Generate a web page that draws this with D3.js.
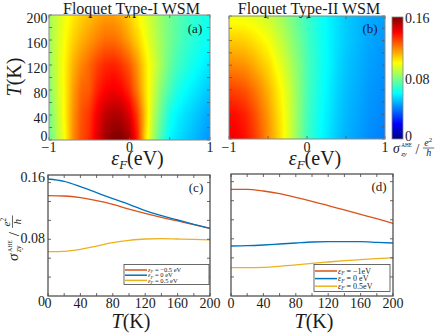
<!DOCTYPE html>
<html>
<head>
<meta charset="utf-8">
<script src="https://cdn.jsdelivr.net/npm/d3@7"></script>
<style>
  body { margin: 0; background: #fff; }
  svg text { font-family: "Liberation Serif", "Times New Roman", serif; fill: #1a1a1a; }
</style>
</head>
<body>
<svg id="fig" width="436" height="334"></svg>
<script>
/* ---- data ---- */
// heat maps: sigma_zy^AHE (e^2/h) on an (eps_F, T) grid
const epsGrid = [-1, -0.9, -0.8, -0.7, -0.6, -0.5, -0.4, -0.3, -0.2, -0.1, 0, 0.1, 0.2, 0.3, 0.4, 0.5, 0.6, 0.7, 0.8, 0.9, 1];
const tempGrid = [0, 40, 80, 120, 160, 200];

const typeI_T0   = [0.075, 0.088, 0.100, 0.118, 0.128, 0.133, 0.145, 0.155, 0.160, 0.160, 0.155, 0.135, 0.105, 0.085, 0.070, 0.059, 0.055, 0.052, 0.049, 0.046, 0.043];
const typeI_T40  = [0.077, 0.090, 0.102, 0.117, 0.127, 0.132, 0.142, 0.150, 0.153, 0.152, 0.145, 0.130, 0.108, 0.088, 0.075, 0.063, 0.058, 0.055, 0.052, 0.049, 0.046];
const typeI_T80  = [0.080, 0.092, 0.102, 0.115, 0.124, 0.126, 0.135, 0.140, 0.142, 0.140, 0.133, 0.120, 0.105, 0.092, 0.080, 0.071, 0.064, 0.060, 0.057, 0.054, 0.051];
const typeI_T120 = [0.082, 0.093, 0.102, 0.112, 0.119, 0.124, 0.130, 0.134, 0.135, 0.132, 0.126, 0.116, 0.104, 0.094, 0.085, 0.076, 0.070, 0.066, 0.062, 0.059, 0.056];
const typeI_T160 = [0.084, 0.093, 0.100, 0.107, 0.112, 0.116, 0.120, 0.123, 0.123, 0.120, 0.114, 0.107, 0.099, 0.091, 0.084, 0.078, 0.073, 0.069, 0.066, 0.063, 0.061];
const typeI_T200 = [0.085, 0.092, 0.098, 0.103, 0.107, 0.110, 0.113, 0.115, 0.115, 0.112, 0.107, 0.101, 0.095, 0.089, 0.083, 0.078, 0.074, 0.070, 0.067, 0.065, 0.063];

const typeII_T0   = [0.142, 0.141, 0.138, 0.133, 0.126, 0.118, 0.110, 0.101, 0.091, 0.080, 0.070, 0.064, 0.059, 0.055, 0.051, 0.048, 0.046, 0.044, 0.042, 0.041, 0.040];
const typeII_T40  = [0.139, 0.138, 0.135, 0.130, 0.123, 0.116, 0.108, 0.100, 0.091, 0.081, 0.071, 0.065, 0.060, 0.056, 0.052, 0.049, 0.047, 0.045, 0.043, 0.042, 0.041];
const typeII_T80  = [0.130, 0.129, 0.127, 0.123, 0.118, 0.112, 0.105, 0.098, 0.090, 0.081, 0.072, 0.066, 0.061, 0.057, 0.053, 0.050, 0.048, 0.046, 0.044, 0.043, 0.042];
const typeII_T120 = [0.119, 0.118, 0.117, 0.114, 0.110, 0.106, 0.100, 0.094, 0.087, 0.080, 0.072, 0.067, 0.062, 0.058, 0.054, 0.051, 0.049, 0.047, 0.045, 0.044, 0.043];
const typeII_T160 = [0.108, 0.108, 0.107, 0.105, 0.102, 0.099, 0.094, 0.089, 0.083, 0.077, 0.071, 0.066, 0.062, 0.058, 0.055, 0.052, 0.050, 0.048, 0.046, 0.045, 0.044];
const typeII_T200 = [0.097, 0.097, 0.097, 0.096, 0.094, 0.092, 0.088, 0.084, 0.079, 0.074, 0.069, 0.065, 0.061, 0.058, 0.055, 0.052, 0.050, 0.048, 0.047, 0.046, 0.045];

const typeI_rows  = [typeI_T0, typeI_T40, typeI_T80, typeI_T120, typeI_T160, typeI_T200];
const typeII_rows = [typeII_T0, typeII_T40, typeII_T80, typeII_T120, typeII_T160, typeII_T200];

// line panels: sigma vs T
const tempLine = [0, 20, 40, 60, 80, 100, 120, 140, 160, 180, 200];
const c_epsM05 = [0.1327, 0.1322, 0.1300, 0.1261, 0.1212, 0.1150, 0.1093, 0.1040, 0.0992, 0.0943, 0.0895];
const c_eps0   = [0.1547, 0.1516, 0.1446, 0.1366, 0.1287, 0.1212, 0.1128, 0.1062, 0.1005, 0.0948, 0.0895];
const c_eps05  = [0.0586, 0.0591, 0.0617, 0.0661, 0.0705, 0.0736, 0.0754, 0.0758, 0.0754, 0.0749, 0.0741];
const d_epsM1  = [0.1399, 0.1399, 0.1377, 0.1342, 0.1294, 0.1242, 0.1185, 0.1128, 0.1071, 0.1014, 0.0953];
const d_eps0   = [0.0656, 0.0660, 0.0669, 0.0682, 0.0695, 0.0708, 0.0713, 0.0713, 0.0713, 0.0704, 0.0695];
const d_eps05  = [0.0372, 0.0372, 0.0376, 0.0389, 0.0407, 0.0428, 0.0446, 0.0463, 0.0477, 0.0490, 0.0503];

const c_labels = ["\u22120.5 eV", "0 eV", "0.5 eV"];
const d_labels = ["\u22121eV", "0 eV", "0.5eV"];

// ticks
const heatTempTicks = [0, 40, 80, 120, 160, 200];
const heatEpsTicks = [-1, 0, 1];
const lineTempTicks = [0, 40, 80, 120, 160, 200];
const sigmaTicks = [0, 0.08, 0.16];

/* ---- layout ---- */
const A  = { x0: 49,  x1: 210, y0: 15,  y1: 140 };
const B  = { x0: 229, x1: 385, y0: 16,  y1: 139 };
const C  = { x0: 48,  x1: 210, y0: 175, y1: 296 };
const D  = { x0: 231, x1: 393, y0: 174, y1: 296 };
const CB = { x0: 392, x1: 403, y0: 17,  y1: 139 };

const lineColors = ["#D95319", "#0072BD", "#EDB120"];
const frameColor = "#444";

const jet = d3.scaleLinear()
    .domain([0, 0.02, 0.06, 0.10, 0.14, 0.16])
    .range(["#000080", "#0000ff", "#00ffff", "#ffff00", "#ff0000", "#800000"])
    .clamp(true);

const svg = d3.select("#fig");
const fmt = v => String(v).replace("-", "\u2212");

// grid lookup (shading between grid nodes, like shading interp)
function sample(rows, e, t) {
    let i = Math.min(Math.max(d3.bisectRight(epsGrid, e) - 1, 0), epsGrid.length - 2);
    let j = Math.min(Math.max(d3.bisectRight(tempGrid, t) - 1, 0), tempGrid.length - 2);
    const fx = Math.min(Math.max((e - epsGrid[i]) / (epsGrid[i + 1] - epsGrid[i]), 0), 1);
    const fy = Math.min(Math.max((t - tempGrid[j]) / (tempGrid[j + 1] - tempGrid[j]), 0), 1);
    const a = rows[j][i] * (1 - fx) + rows[j][i + 1] * fx;
    const b = rows[j + 1][i] * (1 - fx) + rows[j + 1][i + 1] * fx;
    return a * (1 - fy) + b * fy;
}

function drawHeat(P, rows, title, tag, showYLabels) {
    const x = d3.scaleLinear().domain([-1, 1]).range([P.x0, P.x1]);
    const y = d3.scaleLinear().domain([0, 200]).range([P.y1, P.y0]);
    const w = P.x1 - P.x0, h = P.y1 - P.y0;

    const cv = document.createElement("canvas");
    cv.width = w; cv.height = h;
    const ctx = cv.getContext("2d");
    const img = ctx.createImageData(w, h);
    for (let py = 0; py < h; py++) {
        for (let px = 0; px < w; px++) {
            const v = sample(rows, x.invert(P.x0 + px + 0.5), y.invert(P.y0 + py + 0.5));
            const c = d3.rgb(jet(v));
            const k = (py * w + px) * 4;
            img.data[k] = c.r; img.data[k + 1] = c.g; img.data[k + 2] = c.b; img.data[k + 3] = 255;
        }
    }
    ctx.putImageData(img, 0, 0);
    svg.append("image")
        .attr("href", cv.toDataURL())
        .attr("x", P.x0).attr("y", P.y0)
        .attr("width", w).attr("height", h)
        .attr("preserveAspectRatio", "none");

    // inward ticks on all four sides
    const tickG = svg.append("g").attr("stroke", "#555").attr("stroke-width", 0.8);
    d3.range(0, 201, 20).forEach(t => {
        tickG.append("line").attr("x1", P.x0).attr("x2", P.x0 + 3).attr("y1", y(t)).attr("y2", y(t));
        tickG.append("line").attr("x1", P.x1).attr("x2", P.x1 - 3).attr("y1", y(t)).attr("y2", y(t));
    });
    [-1, -0.5, 0, 0.5, 1].forEach(e => {
        tickG.append("line").attr("x1", x(e)).attr("x2", x(e)).attr("y1", P.y1).attr("y2", P.y1 - 3);
        tickG.append("line").attr("x1", x(e)).attr("x2", x(e)).attr("y1", P.y0).attr("y2", P.y0 + 3);
    });

    svg.append("rect")
        .attr("x", P.x0).attr("y", P.y0).attr("width", w).attr("height", h)
        .attr("fill", "none").attr("stroke", "#888").attr("stroke-width", 1);

    // tick labels
    svg.append("g").selectAll("text").data(heatEpsTicks).join("text")
        .attr("x", d => x(d)).attr("y", 152)
        .attr("text-anchor", "middle").attr("font-size", 14)
        .text(fmt);
    if (showYLabels) {
        svg.append("g").selectAll("text").data(heatTempTicks).join("text")
            .attr("x", P.x0 - 1.5).attr("y", d => d === 0 ? y(d) + 0.5 : y(d) + 8)
            .attr("text-anchor", "end").attr("font-size", 14)
            .text(d => d);
    }

    // title and panel tag
    svg.append("text").attr("x", (P.x0 + P.x1) / 2 + 2).attr("y", 13.5)
        .attr("text-anchor", "middle").attr("font-size", 16).text(title);
    svg.append("text").attr("x", P.x1 - 15).attr("y", 33)
        .attr("text-anchor", "middle").attr("font-size", 13).text(tag);

    // x label eps_F (eV)
    const xl = svg.append("text").attr("x", (P.x0 + P.x1) / 2 + 8).attr("y", 165)
        .attr("text-anchor", "middle").attr("font-size", 20);
    xl.append("tspan").attr("font-style", "italic").text("\u03b5");
    xl.append("tspan").attr("font-style", "italic").attr("font-size", 13).attr("dy", 4).text("F");
    xl.append("tspan").attr("dy", -4).text("(eV)");
}

function sigmaLabel(g, s) {
    g.append("text").attr("x", 0).attr("y", 0).attr("font-size", 11 * s).attr("font-style", "italic").text("\u03c3");
    g.append("text").attr("x", 6.5 * s).attr("y", -4.5 * s).attr("font-size", 4.2 * s).text("AHE");
    g.append("text").attr("x", 6.5 * s).attr("y", 2.5 * s).attr("font-size", 5.5 * s).attr("font-style", "italic").text("zy");
    g.append("text").attr("x", 18 * s).attr("y", 1 * s).attr("font-size", 11 * s).text("/");
    const fx = 24 * s;
    const num = g.append("text").attr("x", fx + 1 * s).attr("y", -5.5 * s).attr("font-size", 8 * s);
    num.append("tspan").attr("font-style", "italic").text("e");
    num.append("tspan").attr("font-size", 5.5 * s).attr("dy", -3 * s).text("2");
    g.append("line").attr("x1", fx).attr("x2", fx + 9 * s).attr("y1", -4 * s).attr("y2", -4 * s)
        .attr("stroke", "#1a1a1a").attr("stroke-width", 0.5 * s);
    g.append("text").attr("x", fx + 4.5 * s).attr("y", 2.5 * s).attr("text-anchor", "middle")
        .attr("font-size", 8 * s).attr("font-style", "italic").text("h");
}

function drawLines(P, series, labels, tag, showYLabels, legendBox, rowStep, fontL) {
    const x = d3.scaleLinear().domain([0, 200]).range([P.x0, P.x1]);
    const y = d3.scaleLinear().domain([0, 0.16]).range([P.y1, P.y0]);

    const line = d3.line().x((d, i) => x(tempLine[i])).y(d => y(d)).curve(d3.curveMonotoneX);
    series.forEach((s, k) => {
        svg.append("path").attr("d", line(s)).attr("fill", "none")
            .attr("stroke", lineColors[k]).attr("stroke-width", 1.3);
    });

    const tickG = svg.append("g").attr("stroke", frameColor).attr("stroke-width", 0.8);
    d3.range(0, 201, 20).forEach(t => {
        tickG.append("line").attr("x1", x(t)).attr("x2", x(t)).attr("y1", P.y1).attr("y2", P.y1 - 3);
        tickG.append("line").attr("x1", x(t)).attr("x2", x(t)).attr("y1", P.y0).attr("y2", P.y0 + 3);
    });
    d3.range(0.025, 0.16, 0.025).forEach(v => {
        tickG.append("line").attr("x1", P.x0).attr("x2", P.x0 + 3).attr("y1", y(v)).attr("y2", y(v));
        tickG.append("line").attr("x1", P.x1).attr("x2", P.x1 - 3).attr("y1", y(v)).attr("y2", y(v));
    });
    svg.append("rect")
        .attr("x", P.x0).attr("y", P.y0).attr("width", P.x1 - P.x0).attr("height", P.y1 - P.y0)
        .attr("fill", "none").attr("stroke", frameColor).attr("stroke-width", 1.2);

    svg.append("g").selectAll("text").data(lineTempTicks).join("text")
        .attr("x", d => x(d)).attr("y", 308)
        .attr("text-anchor", "middle").attr("font-size", 14)
        .text(d => d);
    if (showYLabels) {
        svg.append("g").selectAll("text").data(sigmaTicks).join("text")
            .attr("x", P.x0 - 3).attr("y", d => y(d) + (d === 0 ? 9.5 : 7))
            .attr("text-anchor", "end").attr("font-size", 14)
            .text(d => d);
    }

    svg.append("text").attr("x", P.x1 - 14).attr("y", P.y0 + 17)
        .attr("text-anchor", "middle").attr("font-size", 13).text(tag);

    // x label T(K)
    const xl = svg.append("text").attr("x", (P.x0 + P.x1) / 2 + 2).attr("y", 328)
        .attr("text-anchor", "middle").attr("font-size", 20);
    xl.append("tspan").attr("font-style", "italic").text("T");
    xl.append("tspan").text("(K)");

    // legend
    const L = legendBox;
    svg.append("rect").attr("x", L.x0).attr("y", L.y0).attr("width", L.x1 - L.x0).attr("height", L.y1 - L.y0)
        .attr("fill", "#fff").attr("stroke", frameColor).attr("stroke-width", 0.8);
    labels.forEach((lab, k) => {
        const yy = L.y0 + L.first + k * rowStep;
        svg.append("line").attr("x1", L.x0 + 1).attr("x2", L.x0 + 23).attr("y1", yy).attr("y2", yy)
            .attr("stroke", lineColors[k]).attr("stroke-width", 1.5);
        const t = svg.append("text").attr("x", L.x0 + 24).attr("y", yy + fontL * 0.35).attr("font-size", fontL);
        t.append("tspan").attr("font-style", "italic").text("\u03b5");
        t.append("tspan").attr("font-style", "italic").attr("font-size", fontL * 0.7).attr("dy", 1.2).text("F");
        t.append("tspan").attr("dy", -1.2).text(" = " + lab);
    });
}

/* ---- heat maps ---- */
drawHeat(A, typeI_rows, "Floquet Type-I WSM", "(a)", true);
drawHeat(B, typeII_rows, "Floquet Type-II WSM", "(b)", false);

// y label T(K) for heat maps
const tl = svg.append("text").attr("transform", "translate(21,77) rotate(-90)")
    .attr("text-anchor", "middle").attr("font-size", 20);
tl.append("tspan").attr("font-style", "italic").text("T");
tl.append("tspan").text("(K)");

/* ---- colour bar ---- */
const grad = svg.append("defs").append("linearGradient").attr("id", "jetGrad")
    .attr("x1", 0).attr("y1", 1).attr("x2", 0).attr("y2", 0);
jet.domain().forEach(v => {
    grad.append("stop").attr("offset", v / 0.16).attr("stop-color", jet(v));
});
svg.append("rect").attr("x", CB.x0).attr("y", CB.y0).attr("width", CB.x1 - CB.x0).attr("height", CB.y1 - CB.y0)
    .attr("fill", "url(#jetGrad)").attr("stroke", "#888").attr("stroke-width", 0.8);
const cbY = d3.scaleLinear().domain([0, 0.16]).range([CB.y1, CB.y0]);
svg.append("g").selectAll("text").data(sigmaTicks).join("text")
    .attr("x", CB.x1 + 2).attr("y", d => d === 0 ? cbY(d) + 2 : cbY(d) + 6)
    .attr("font-size", 14).text(d => d);
sigmaLabel(svg.append("g").attr("transform", "translate(393,153)"), 1.25);

/* ---- line panels ---- */
drawLines(C, [c_epsM05, c_eps0, c_eps05], c_labels, "(c)", true,
    { x0: 124, x1: 209, y0: 264.5, y1: 284.5, first: 5.5 }, 5.2, 6.5);
drawLines(D, [d_epsM1, d_eps0, d_eps05], d_labels, "(d)", false,
    { x0: 314, x1: 390, y0: 264.5, y1: 291.5, first: 6.5 }, 7.6, 8);

// y label of line panels
sigmaLabel(svg.append("g").attr("transform", "translate(18,261) rotate(-90)"), 1.38);
</script>
</body>
</html>
